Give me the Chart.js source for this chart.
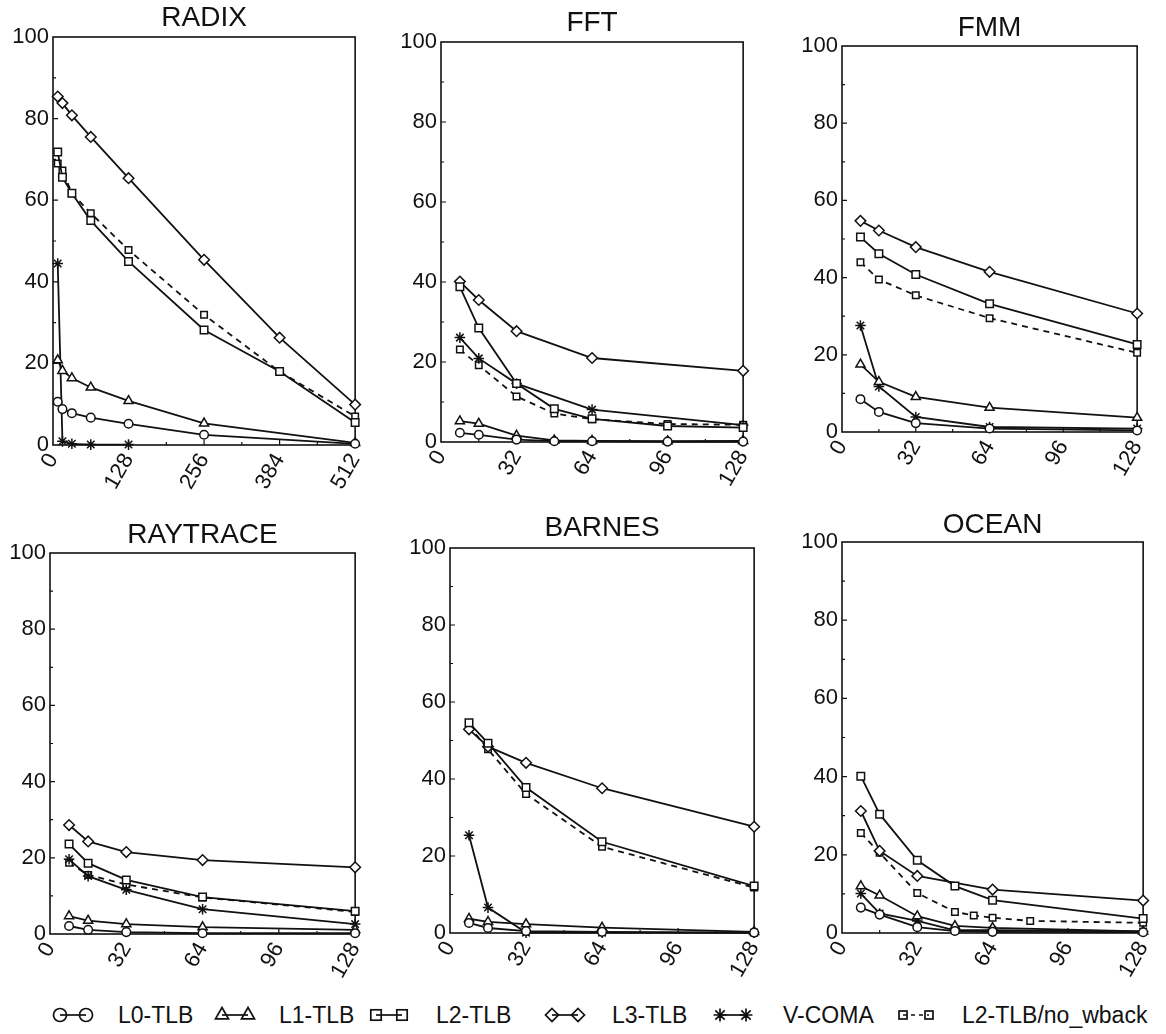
<!DOCTYPE html>
<html>
<head>
<meta charset="utf-8">
<title>TLB miss rates</title>
<script src="https://cdn.jsdelivr.net/npm/chart.js@4.4.1/dist/chart.umd.min.js"></script>
<style>
  body { margin: 0; background: #fff; width: 1166px; height: 1034px; position: relative; overflow: hidden;
         font-family: 'Liberation Sans', Arial, sans-serif; }
  canvas.panel { position: absolute; }
  .leg { position: absolute; top: 1002px; height: 26px; display: flex; align-items: center;
         font-size: 23px; color: #111; white-space: nowrap; }
  .leg svg { display: block; }
</style>
</head>
<body>
<div id="legend"></div>
<script>
// series order: L0-TLB, L1-TLB, L2-TLB, L3-TLB, V-COMA, L2-TLB/no_wback
const seriesNames = ['L0-TLB', 'L1-TLB', 'L2-TLB', 'L3-TLB', 'V-COMA', 'L2-TLB/no_wback'];

// RADIX
const radixX     = [8, 16, 32, 64, 128, 256, 384, 512];
const radixL0    = [10.6, 8.8, 7.8, 6.7, 5.2, 2.5, null, 0.3];
const radixL1    = [20.8, 18.2, 16.4, 14.1, 10.8, 5.3, null, 0.5];
const radixL2    = [71.8, 65.6, 61.7, 55.0, 45.0, 28.2, 18.0, 5.5];
const radixL3    = [85.4, 83.8, 80.8, 75.5, 65.4, 45.4, 26.3, 9.9];
const radixVcoma = [44.5, 0.9, 0.3, 0.1, 0.1, null, null, null];
const radixL2nw  = [69.0, 67.3, 61.7, 56.8, 47.8, 31.9, 18.0, 7.0];

// FFT
const fftX     = [8, 16, 32, 48, 64, 96, 128];
const fftL0    = [2.3, 1.8, 0.6, 0.2, 0.2, 0.1, 0.1];
const fftL1    = [5.2, 4.6, 1.6, 0.4, 0.3, 0.2, 0.3];
const fftL2    = [38.8, 28.5, 14.6, 8.3, 5.8, 4.0, 3.6];
const fftL3    = [40.1, 35.5, 27.7, null, 21.0, null, 17.8];
const fftVcoma = [26.1, 20.9, 14.6, null, 8.1, null, 4.2];
const fftL2nw  = [23.1, 19.2, 11.4, 7.1, 5.7, 4.5, 4.3];

// FMM
const fmmX     = [8, 16, 32, 64, 128];
const fmmL0    = [8.5, 5.2, 2.3, 0.9, 0.4];
const fmmL1    = [17.5, 13.0, 9.1, 6.3, 3.7];
const fmmL2    = [50.5, 46.2, 40.8, 33.2, 22.7];
const fmmL3    = [54.7, 52.2, 47.9, 41.5, 30.7];
const fmmVcoma = [27.6, 11.8, 3.9, 1.3, 0.9];
const fmmL2nw  = [44.0, 39.5, 35.4, 29.5, 20.5];

// RAYTRACE
const rayX     = [8, 16, 32, 64, 128];
const rayL0    = [2.1, 1.1, 0.5, 0.2, 0.2];
const rayL1    = [4.7, 3.5, 2.6, 1.8, 1.1];
const rayL2    = [23.6, 18.6, 14.2, 9.7, 6.0];
const rayL3    = [28.6, 24.3, 21.5, 19.4, 17.5];
const rayVcoma = [19.6, 15.2, 11.6, 6.5, 2.6];
const rayL2nw  = [18.7, 15.5, 13.0, 9.6, 5.8];

// BARNES
const barnesX     = [8, 16, 32, 64, 128];
const barnesL0    = [2.6, 1.3, 0.5, 0.3, 0.1];
const barnesL1    = [3.7, 2.9, 2.3, 1.4, 0.3];
const barnesL2    = [54.6, 49.3, 37.8, 23.7, 12.2];
const barnesL3    = [52.9, 48.4, 44.2, 37.6, 27.6];
const barnesVcoma = [25.4, 6.6, 0.1, 0.1, 0.1];
const barnesL2nw  = [53.8, 47.7, 36.1, 22.4, 11.8];

// OCEAN
const oceanX     = [8, 16, 32, 48, 56, 64, 80, 128];
const oceanL0    = [6.5, 4.7, 1.5, 0.5, null, 0.3, null, 0.2];
const oceanL1    = [12.0, 9.6, 4.3, 1.8, null, 1.3, null, 0.4];
const oceanL2    = [40.1, 30.4, 18.6, 12.0, null, 8.4, null, 3.7];
const oceanL3    = [31.2, 21.0, 14.6, null, null, 11.1, null, 8.3];
const oceanVcoma = [10.1, 5.0, 3.1, 0.7, null, 0.7, null, 0.4];
const oceanL2nw  = [25.6, 20.5, 10.2, 5.4, 4.5, 3.9, 3.1, 2.6];

const yTicks = [0, 20, 40, 60, 80, 100];

// marker look per series
const pointStyles = ['circle', 'triangle', 'rect', 'rectRot', 'star', 'rect'];
const pointRadii  = [4.3, 5.3, 5.3, 5.3, 5.3, 4.6];
const INK = '#111';

const panels = [
  { title: 'RADIX',    xs: radixX,  ys: [radixL0, radixL1, radixL2, radixL3, radixVcoma, radixL2nw],
    xMax: 512, xStep: 128, area: { l: 53,  r: 368,  t: 37,  b: 445 }, top: 0,   titleY: 18 },
  { title: 'FFT',      xs: fftX,    ys: [fftL0, fftL1, fftL2, fftL3, fftVcoma, fftL2nw],
    xMax: 128, xStep: 32,  area: { l: 441, r: 756,  t: 42,  b: 442 }, top: 0,   titleY: 23 },
  { title: 'FMM',      xs: fmmX,    ys: [fmmL0, fmmL1, fmmL2, fmmL3, fmmVcoma, fmmL2nw],
    xMax: 128, xStep: 32,  area: { l: 842, r: 1150, t: 46,  b: 432 }, top: 0,   titleY: 28 },
  { title: 'RAYTRACE', xs: rayX,    ys: [rayL0, rayL1, rayL2, rayL3, rayVcoma, rayL2nw],
    xMax: 128, xStep: 32,  area: { l: 50,  r: 368,  t: 553, b: 934 }, top: 500, titleY: 535 },
  { title: 'BARNES',   xs: barnesX, ys: [barnesL0, barnesL1, barnesL2, barnesL3, barnesVcoma, barnesL2nw],
    xMax: 128, xStep: 32,  area: { l: 450, r: 767,  t: 548, b: 933 }, top: 500, titleY: 528 },
  { title: 'OCEAN',    xs: oceanX,  ys: [oceanL0, oceanL1, oceanL2, oceanL3, oceanVcoma, oceanL2nw],
    xMax: 128, xStep: 32,  area: { l: 842, r: 1156, t: 542, b: 933 }, top: 500, titleY: 525 }
];

const Y_AXIS_W = 53;
const X_AXIS_H = 62;
const RIGHT_PAD = 14;

// box around the plot, inward tick marks and the panel title
const framePlugin = {
  id: 'frame',
  beforeDatasetsDraw(chart, args, opts) {
    const { ctx, chartArea: a } = chart;
    const x = chart.scales.x, y = chart.scales.y;
    ctx.save();
    ctx.strokeStyle = INK;
    ctx.lineWidth = 1.6;
    ctx.strokeRect(a.left, a.top, a.right - a.left, a.bottom - a.top);
    ctx.lineWidth = 1.2;
    ctx.beginPath();
    for (let v = 10; v < 100; v += 10) {
      const py = y.getPixelForValue(v);
      const len = v % 20 === 0 ? 5 : 3;
      ctx.moveTo(a.left, py); ctx.lineTo(a.left + len, py);
    }
    for (let v = opts.xStep / 2; v < x.max; v += opts.xStep / 2) {
      const px = x.getPixelForValue(v);
      const len = v % opts.xStep === 0 ? 5 : 3;
      ctx.moveTo(px, a.bottom); ctx.lineTo(px, a.bottom - len);
    }
    ctx.stroke();
    ctx.restore();
  },
  afterDraw(chart, args, opts) {
    const { ctx, chartArea: a } = chart;
    ctx.save();
    ctx.fillStyle = INK;
    ctx.font = '28px "Liberation Sans", Arial, sans-serif';
    ctx.textAlign = 'center';
    ctx.textBaseline = 'middle';
    ctx.fillText(opts.text, (a.left + a.right) / 2, opts.y);
    ctx.restore();
  }
};

panels.forEach(function(p) {
  const canvas = document.createElement('canvas');
  const left = p.area.l - Y_AXIS_W;
  const width = p.area.r + RIGHT_PAD - left;
  const height = p.area.b + X_AXIS_H - p.top;
  canvas.className = 'panel';
  canvas.width = width;
  canvas.height = height;
  canvas.style.left = left + 'px';
  canvas.style.top = p.top + 'px';
  canvas.style.width = width + 'px';
  canvas.style.height = height + 'px';
  document.body.appendChild(canvas);

  const datasets = p.ys.map(function(vals, i) {
    return {
      label: seriesNames[i],
      data: p.xs.map(function(xv, k) { return { x: xv, y: vals[k] }; }),
      borderColor: INK,
      borderWidth: 1.8,
      borderDash: i === 5 ? [6, 5] : [],
      pointStyle: pointStyles[i],
      pointRadius: pointRadii[i],
      pointBackgroundColor: '#fff',
      pointBorderColor: INK,
      pointBorderWidth: 1.5,
      tension: 0,
      spanGaps: true,
      clip: false
    };
  });

  new Chart(canvas, {
    type: 'line',
    data: { datasets: datasets },
    plugins: [framePlugin],
    options: {
      responsive: false,
      animation: false,
      events: [],
      layout: { padding: { top: p.area.t - p.top, right: RIGHT_PAD, left: 0, bottom: 0 } },
      plugins: {
        legend: { display: false },
        tooltip: { enabled: false },
        frame: { text: p.title, y: p.titleY - p.top, xStep: p.xStep }
      },
      scales: {
        x: {
          type: 'linear',
          min: 0,
          max: p.xMax,
          grid: { display: false, drawTicks: false },
          border: { display: false },
          afterFit: function(scale) { scale.height = X_AXIS_H; },
          ticks: {
            stepSize: p.xStep,
            minRotation: 60,
            maxRotation: 60,
            padding: 4,
            color: INK,
            font: { family: '"Liberation Sans", Arial, sans-serif', size: 22 }
          }
        },
        y: {
          min: 0,
          max: 100,
          grid: { display: false, drawTicks: false },
          border: { display: false },
          afterFit: function(scale) { scale.width = Y_AXIS_W; },
          afterBuildTicks: function(scale) { scale.ticks = yTicks.map(function(v) { return { value: v }; }); },
          ticks: {
            padding: 4,
            color: INK,
            font: { family: '"Liberation Sans", Arial, sans-serif', size: 22 }
          }
        }
      }
    }
  });
});

// legend: marker - line - marker, then the name
const legendX = [[53, 118], [215, 279], [369, 436], [545, 612], [713, 783], [896, 962]];

function markerSvg(style, cx, cy, r) {
  const s = 'fill="none" stroke="' + INK + '" stroke-width="1.7"';
  if (style === 'circle') return '<circle cx="' + cx + '" cy="' + cy + '" r="' + r + '" ' + s + '/>';
  if (style === 'triangle') return '<polygon points="' + cx + ',' + (cy - r) + ' ' + (cx + r) + ',' + (cy + r * 0.75) + ' ' + (cx - r) + ',' + (cy + r * 0.75) + '" ' + s + '/>';
  if (style === 'rect') return '<rect x="' + (cx - r * 0.8) + '" y="' + (cy - r * 0.8) + '" width="' + (r * 1.6) + '" height="' + (r * 1.6) + '" ' + s + '/>';
  if (style === 'rectRot') return '<polygon points="' + cx + ',' + (cy - r) + ' ' + (cx + r) + ',' + cy + ' ' + cx + ',' + (cy + r) + ' ' + (cx - r) + ',' + cy + '" ' + s + '/>';
  const d = r * 0.72;
  return '<path d="M' + (cx - r) + ' ' + cy + 'H' + (cx + r) + 'M' + cx + ' ' + (cy - r) + 'V' + (cy + r) +
    'M' + (cx - d) + ' ' + (cy - d) + 'L' + (cx + d) + ' ' + (cy + d) + 'M' + (cx + d) + ' ' + (cy - d) + 'L' + (cx - d) + ' ' + (cy + d) + '" ' + s + '/>';
}

const legendEl = document.getElementById('legend');
seriesNames.forEach(function(name, i) {
  const r = i === 5 ? 5 : 6.5;
  const ly = i === 1 ? 12 : 13;
  let svg = '<svg width="44" height="26" viewBox="0 0 44 26">';
  svg += '<line x1="8" y1="13" x2="34" y2="13" stroke="' + INK + '" stroke-width="1.7"' + (i === 5 ? ' stroke-dasharray="4 4"' : '') + '/>';
  svg += markerSvg(pointStyles[i], 8, ly, r) + markerSvg(pointStyles[i], 34, ly, r);
  svg += '</svg>';
  const sym = document.createElement('div');
  sym.className = 'leg';
  sym.style.left = (legendX[i][0] - 1) + 'px';
  sym.innerHTML = svg;
  legendEl.appendChild(sym);
  const txt = document.createElement('div');
  txt.className = 'leg';
  txt.style.left = legendX[i][1] + 'px';
  txt.textContent = name;
  legendEl.appendChild(txt);
});
</script>
</body>
</html>
